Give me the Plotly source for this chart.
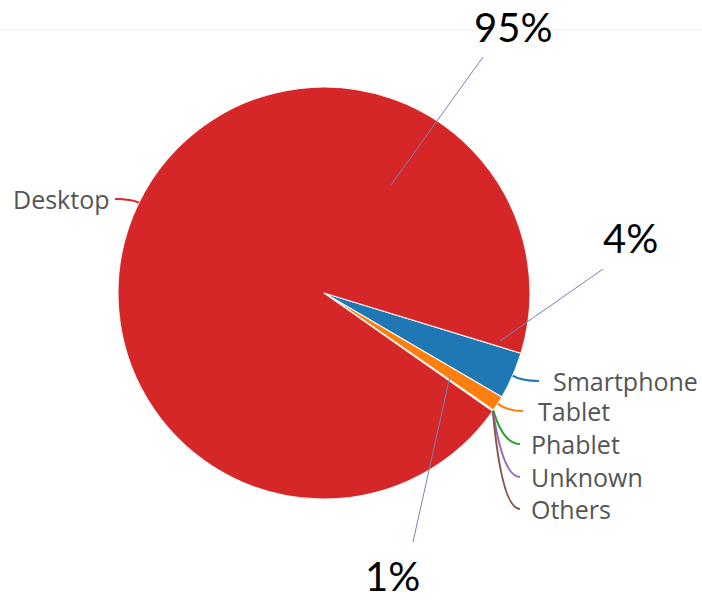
import math
import plotly.graph_objects as go

# Share of sessions by device type (percent)
categories = ["Smartphone", "Tablet", "Phablet", "Unknown", "Others", "Desktop"]
shares = [3.7, 1.2, 0.05, 0.03, 0.02, 94.95]
colors = ["#1f77b4", "#ff7f0e", "#2ca02c", "#9467bd", "#8c564b", "#d62728"]

# Categories that get a large percentage call-out
callouts = ["Desktop", "Smartphone", "Tablet"]

# ---- page / pie geometry (pixels) ----
W, H = 702, 601
CX, CY, R = 324, 293, 206
START = 107  # first slice starts this many degrees clockwise from 12 o'clock


def fx(x):
    return x / W


def fy(y):
    return 1 - y / H


total = sum(shares)
mid_angle = {}
acc = START
for cat, v in zip(categories, shares):
    span = 360.0 * v / total
    mid_angle[cat] = acc + span / 2
    acc += span


def rim_point(cat):
    a = math.radians(mid_angle[cat])
    return CX + R * math.sin(a), CY - R * math.cos(a)


# name labels: (text x, text y, side, elbow dx, gap to text)
name_layout = {
    "Desktop": (111, 199, "left", -7, 4),
    "Smartphone": (551, 381, "right", 8, 12),
    "Tablet": (536, 411, "right", 9, 13),
    "Phablet": (529, 444, "right", 10, 9),
    "Unknown": (529, 477, "right", 10, 9),
    "Others": (529, 509, "right", 9, 9),
}

# percentage call-outs: (text centre x, y, leader start, leader end, backdrop)
callout_layout = {
    "Desktop": (513, 27, (483, 57), (391, 185), "white"),
    "Smartphone": (630, 238, (603, 269), (500, 341), "rgba(0,0,0,0)"),
    "Tablet": (392, 576, (413, 542), (450, 376), "rgba(0,0,0,0)"),
}

fig = go.Figure(
    go.Pie(
        labels=categories,
        values=shares,
        sort=False,
        direction="clockwise",
        rotation=START,
        marker=dict(colors=colors, line=dict(color="rgba(255,255,255,0.85)", width=1.2)),
        textinfo="none",
        hoverinfo="label+percent",
        showlegend=False,
        domain=dict(x=[fx(CX - R), fx(CX + R)], y=[fy(CY + R), fy(CY - R)]),
    )
)

shapes = [
    dict(type="line", xref="paper", yref="paper",
         x0=0, x1=1, y0=fy(30), y1=fy(30),
         line=dict(color="#eeeeee", width=1), layer="below"),
]
annotations = []

color_of = dict(zip(categories, colors))
for cat in categories:
    tx, ty, side, elbow_dx, gap = name_layout[cat]
    ax, ay = rim_point(cat)
    ex, ey = ax + elbow_dx, ty
    cx = tx - gap if side == "right" else tx + gap
    path = "M {:.5f},{:.5f} Q {:.5f},{:.5f} {:.5f},{:.5f}".format(
        fx(ax), fy(ay), fx(ex), fy(ey), fx(cx), fy(ty))
    shapes.append(dict(type="path", xref="paper", yref="paper", path=path,
                       line=dict(color=color_of[cat], width=2)))
    annotations.append(dict(
        x=fx(tx), y=fy(ty), xref="paper", yref="paper",
        text=cat, showarrow=False,
        xanchor="left" if side == "right" else "right", yanchor="middle",
        font=dict(family="Open Sans", size=25, color="#555555"),
    ))

for cat in callouts:
    tx, ty, (lx0, ly0), (lx1, ly1), backdrop = callout_layout[cat]
    value = shares[categories.index(cat)]
    pct = round(100.0 * value / total)
    shapes.append(dict(type="line", xref="paper", yref="paper",
                       x0=fx(lx0), y0=fy(ly0), x1=fx(lx1), y1=fy(ly1),
                       line=dict(color="#7383b8", width=1)))
    annotations.append(dict(
        x=fx(tx), y=fy(ty), xref="paper", yref="paper",
        text=f"{pct}%", showarrow=False, borderpad=0,
        xanchor="center", yanchor="middle", bgcolor=backdrop,
        font=dict(family="Lato", size=40, color="#000000"),
    ))

fig.update_layout(
    width=W, height=H,
    margin=dict(l=0, r=0, t=0, b=0),
    paper_bgcolor="white", plot_bgcolor="white",
    shapes=shapes, annotations=annotations,
)

fig.write_html("out.html")
